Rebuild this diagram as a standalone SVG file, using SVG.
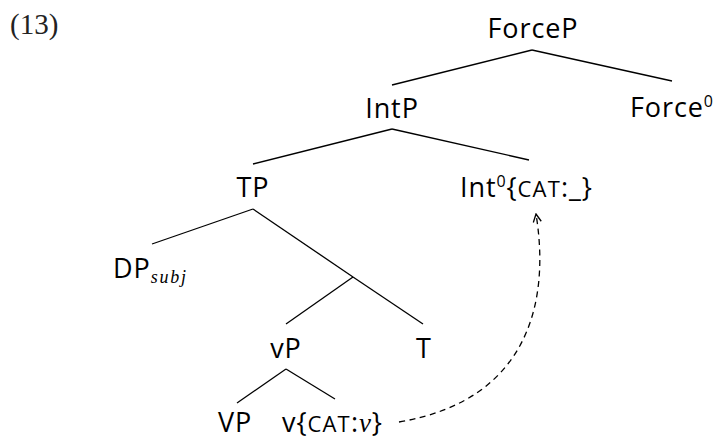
<svg xmlns="http://www.w3.org/2000/svg" width="718" height="439" viewBox="0 0 718 439">
<style>
.lbl{font-family:"Open Sans","Noto Sans",sans-serif;font-size:27px;fill:#000;letter-spacing:0.9px}
.sup{font-size:16px}
.sc{font-size:22px;letter-spacing:1.2px}
.it{font-family:"Liberation Serif","DejaVu Serif",serif;font-style:italic}
.num{font-family:"Liberation Serif","DejaVu Serif",serif;font-size:29px;fill:#222}
.edge{stroke:#000;stroke-width:1.3;fill:none}
.dash{stroke:#000;stroke-width:1.3;fill:none;stroke-dasharray:6 4.5}
</style>
<defs>
<marker id="open" viewBox="0 0 10 10" refX="9" refY="5" markerWidth="10" markerHeight="10" markerUnits="userSpaceOnUse" orient="auto">
<path d="M1,1 L9,5 L1,9" fill="none" stroke="#000" stroke-width="1.3"/>
</marker>
</defs>
<text class="num" x="10" y="34">(13)</text>
<g id="connectors">
<line class="edge" x1="532" y1="50" x2="392" y2="85"/>
<line class="edge" x1="532" y1="50" x2="672" y2="81"/>
<line class="edge" x1="392" y1="129" x2="253" y2="164"/>
<line class="edge" x1="392" y1="129" x2="529" y2="160"/>
<line class="edge" x1="253" y1="209" x2="152" y2="244"/>
<line class="edge" x1="253" y1="209" x2="353" y2="277"/>
<line class="edge" x1="353" y1="277" x2="423" y2="324"/>
<line class="edge" x1="353" y1="277" x2="286" y2="324"/>
<line class="edge" x1="286" y1="369" x2="237" y2="403"/>
<line class="edge" x1="286" y1="369" x2="335" y2="399"/>
<path class="dash" d="M399,422 C530,400 550,300 536,214" marker-end="url(#open)"/>
</g>
<g id="ForceP"><text class="lbl" x="533" y="38" text-anchor="middle">ForceP</text></g>
<g id="IntP"><text class="lbl" x="392" y="118" text-anchor="middle">IntP</text></g>
<g id="Force0"><text class="lbl" x="630" y="117">Force<tspan class="sup" dy="-10">0</tspan></text></g>
<g id="TP"><text class="lbl" x="253" y="197" text-anchor="middle">TP</text></g>
<g id="Int0"><text class="lbl" x="460" y="197">Int<tspan class="sup" dy="-10">0</tspan><tspan dy="10">{</tspan><tspan class="sc">CAT</tspan>:_}</text></g>
<g id="DPsubj"><text class="lbl" x="113" y="278">DP<tspan class="it" font-size="18" dy="5" letter-spacing="1.8">subj</tspan></text></g>
<g id="vP"><text class="lbl" x="286" y="358" text-anchor="middle">vP</text></g>
<g id="T"><text class="lbl" x="424" y="358" text-anchor="middle">T</text></g>
<g id="VP"><text class="lbl" x="235" y="432" text-anchor="middle">VP</text></g>
<g id="v"><text class="lbl" x="282" y="432">v{<tspan class="sc">CAT</tspan>:<tspan class="it">ν</tspan>}</text></g>
</svg>
